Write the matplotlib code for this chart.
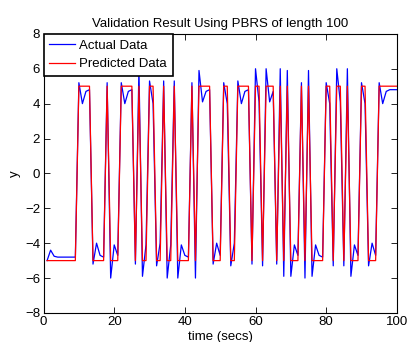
import matplotlib
matplotlib.use('Agg')
import matplotlib.pyplot as plt

plt.rcParams['font.family'] = ['Liberation Sans', 'DejaVu Sans']

title = 'Validation Result Using PBRS of length 100'
series_names = ['Actual Data', 'Predicted Data']

t = list(range(1, 101))

predicted = [
    -5, -5, -5, -5, -5, -5, -5, -5, -5, 5,
    5, 5, 5, -5, -5, -5, -5, 5, -5, -5,
    -5, 5, 5, 5, 5, -5, 5, -5, -5, 5,
    5, -5, -5, 5, -5, -5, 5, -5, -5, -5,
    -5, 5, -5, 5, 5, 5, 5, -5, -5, -5,
    5, 5, -5, -5, 5, 5, 5, 5, -5, 5,
    5, -5, 5, 5, 5, -5, 5, -5, 5, -5,
    -5, -5, 5, -5, 5, -5, -5, -5, -5, 5,
    5, -5, 5, 5, -5, 5, -5, -5, -5, 5,
    5, -5, -5, -5, 5, 5, 5, 5, 5, 5,
]

actual = [
    -5.0, -4.4, -4.75, -4.8, -4.8, -4.8, -4.8, -4.8, -4.8, 5.2,
    4.0, 4.7, 4.8, -5.2, -4.0, -4.7, -4.8, 5.2, -6.0, -4.1,
    -4.7, 5.2, 4.0, 4.7, 4.8, -5.2, 6.0, -5.9, -4.1, 5.3,
    4.0, -5.3, -4.0, 5.3, -6.0, -4.1, 5.3, -6.0, -4.1, -4.7,
    -4.8, 5.2, -6.0, 5.9, 4.1, 4.7, 4.8, -5.2, -4.0, -4.7,
    5.2, 4.0, -5.3, -4.0, 5.3, 4.0, 4.7, 4.8, -5.2, 6.0,
    4.1, -5.3, 6.0, 4.1, 4.7, -5.2, 6.0, -5.9, 5.9, -5.9,
    -4.1, -4.7, 5.2, -6.0, 5.9, -5.9, -4.1, -4.7, -4.8, 5.2,
    4.0, -5.3, 6.0, 4.1, -5.3, 6.0, -5.9, -4.1, -4.7, 5.2,
    4.0, -5.3, -4.0, -4.7, 5.2, 4.0, 4.7, 4.8, 4.8, 4.8,
]

xticks = [0, 20, 40, 60, 80, 100]
yticks = [-8, -6, -4, -2, 0, 2, 4, 6, 8]

fs = 9.5
fig = plt.figure(figsize=(4.07, 3.42), dpi=100)
ax = fig.add_axes([0.107, 0.085, 0.868, 0.816])
ax.plot(t, actual, color='#0000ff', lw=0.9, label=series_names[0])
ax.plot(t, predicted, color='#ff0000', lw=0.9, label=series_names[1])
ax.set_xlim(0, 100)
ax.set_ylim(-8, 8)
ax.set_xticks(xticks)
ax.set_yticks(yticks)
ax.tick_params(direction='in', top=True, right=True, labelsize=fs, length=4, width=0.6, pad=2.5)
for s in ax.spines.values():
    s.set_linewidth(0.8)
ax.set_title(title, fontsize=fs, pad=5)
ax.set_xlabel('time (secs)', fontsize=fs, labelpad=2)
ax.set_ylabel('y', fontsize=fs, labelpad=3)
leg = ax.legend(loc='upper left', fancybox=False, edgecolor='black', framealpha=1,
                borderaxespad=0, fontsize=fs, handlelength=1.9, labelspacing=0.45,
                borderpad=0.45, handletextpad=0.35)
leg.get_frame().set_linewidth(1.2)
fig.savefig('out.png', dpi=100)
